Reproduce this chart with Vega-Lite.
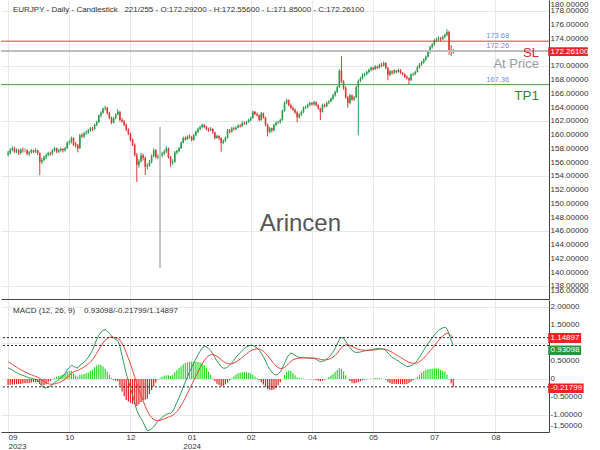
{
"$schema":"https://vega.github.io/schema/vega-lite/v6.json",
"padding":{"left":0,"top":0,"right":0,"bottom":0},
"background":"white",
"spacing":1,
"config":{"view":{"stroke":null},"font":"Liberation Sans","text":{"font":"Liberation Sans"},
 "axis":{"labelOverlap":false,"labelSeparation":0}},
"datasets":{
"pticks":[{"v":178,"t":"178.00000"},{"v":176,"t":"176.00000"},{"v":174,"t":"174.00000"},{"v":170,"t":"170.00000"},{"v":168,"t":"168.00000"},{"v":166,"t":"166.00000"},{"v":164,"t":"164.00000"},{"v":162,"t":"162.00000"},{"v":160,"t":"160.00000"},{"v":158,"t":"158.00000"},{"v":156,"t":"156.00000"},{"v":154,"t":"154.00000"},{"v":152,"t":"152.00000"},{"v":150,"t":"150.00000"},{"v":148,"t":"148.00000"},{"v":146,"t":"146.00000"},{"v":144,"t":"144.00000"},{"v":142,"t":"142.00000"},{"v":140,"t":"140.00000"},{"v":138,"t":"138.00000"}],
"mticks":[{"v":2,"t":"2.00000"},{"v":1.5,"t":"1.50000"},{"v":0.5,"t":"0.50000"},{"v":0,"t":"0"},{"v":-0.5,"t":"-0.50000"},{"v":-1,"t":"-1.00000"}],
"bars":[
{"i":1,"o":157.2,"h":157.7,"l":156.9,"c":157.4,"m":0.31,"s":0.48,"d":-0.17},
{"i":2,"o":157.4,"h":158.1,"l":157.2,"c":157.9,"m":0.28,"s":0.44,"d":-0.16},
{"i":3,"o":157.9,"h":158.4,"l":157.7,"c":158.1,"m":0.25,"s":0.402,"d":-0.152},
{"i":4,"o":158.1,"h":158.3,"l":157.4,"c":157.6,"m":0.21,"s":0.364,"d":-0.154},
{"i":5,"o":157.6,"h":158.1,"l":157.4,"c":157.8,"m":0.18,"s":0.327,"d":-0.147},
{"i":6,"o":157.8,"h":158.0,"l":157.1,"c":157.4,"m":0.15,"s":0.292,"d":-0.142},
{"i":7,"o":157.4,"h":158.1,"l":157.2,"c":157.9,"m":0.12,"s":0.258,"d":-0.138},
{"i":8,"o":157.9,"h":158.2,"l":157.5,"c":157.8,"m":0.1,"s":0.226,"d":-0.126},
{"i":9,"o":157.8,"h":158.1,"l":157.5,"c":157.8,"m":0.08,"s":0.197,"d":-0.117},
{"i":10,"o":157.8,"h":157.9,"l":157.1,"c":157.3,"m":0.05,"s":0.168,"d":-0.118},
{"i":11,"o":157.3,"h":157.7,"l":157.0,"c":157.5,"m":0.03,"s":0.14,"d":-0.11},
{"i":12,"o":157.5,"h":158.0,"l":157.3,"c":157.8,"m":0.02,"s":0.116,"d":-0.096},
{"i":13,"o":157.8,"h":157.9,"l":157.4,"c":157.6,"m":0,"s":0.093,"d":-0.093},
{"i":14,"o":157.6,"h":158.1,"l":157.4,"c":157.8,"m":-0.01,"s":0.072,"d":-0.082},
{"i":15,"o":157.8,"h":157.9,"l":157.1,"c":157.4,"m":-0.03,"s":0.052,"d":-0.082},
{"i":16,"o":157.4,"h":157.5,"l":154.2,"c":156.1,"m":-0.12,"s":0.018,"d":-0.138},
{"i":17,"o":156.1,"h":156.7,"l":155.8,"c":156.4,"m":-0.2,"s":-0.026,"d":-0.174},
{"i":18,"o":156.4,"h":157.0,"l":156.2,"c":156.8,"m":-0.24,"s":-0.069,"d":-0.171},
{"i":19,"o":156.8,"h":157.3,"l":156.5,"c":157.1,"m":-0.25,"s":-0.105,"d":-0.145},
{"i":20,"o":157.1,"h":157.6,"l":156.9,"c":157.4,"m":-0.23,"s":-0.13,"d":-0.1},
{"i":21,"o":157.4,"h":157.6,"l":157.0,"c":157.3,"m":-0.2,"s":-0.144,"d":-0.056},
{"i":22,"o":157.3,"h":158.0,"l":157.1,"c":157.8,"m":-0.15,"s":-0.145,"d":-0.005},
{"i":23,"o":157.8,"h":158.3,"l":157.6,"c":158.1,"m":-0.1,"s":-0.136,"d":0.036},
{"i":24,"o":158.1,"h":158.2,"l":157.4,"c":157.6,"m":-0.06,"s":-0.121,"d":0.061},
{"i":25,"o":157.6,"h":158.0,"l":157.4,"c":157.8,"m":-0.02,"s":-0.101,"d":0.081},
{"i":26,"o":157.8,"h":158.2,"l":157.6,"c":158.0,"m":0.03,"s":-0.075,"d":0.105},
{"i":27,"o":158.0,"h":158.1,"l":157.5,"c":157.8,"m":0.08,"s":-0.044,"d":0.124},
{"i":28,"o":157.8,"h":158.3,"l":157.6,"c":158.1,"m":0.15,"s":-0.005,"d":0.155},
{"i":29,"o":158.1,"h":159.1,"l":158.0,"c":158.9,"m":0.25,"s":0.046,"d":0.204},
{"i":30,"o":158.9,"h":159.3,"l":158.6,"c":159.0,"m":0.32,"s":0.101,"d":0.219},
{"i":31,"o":159.0,"h":159.8,"l":158.8,"c":159.6,"m":0.38,"s":0.157,"d":0.223},
{"i":32,"o":159.6,"h":159.7,"l":158.4,"c":158.6,"m":0.35,"s":0.196,"d":0.154},
{"i":33,"o":158.7,"h":159.0,"l":158.2,"c":158.6,"m":0.32,"s":0.221,"d":0.099},
{"i":34,"o":158.6,"h":158.7,"l":157.5,"c":158.1,"m":0.3,"s":0.237,"d":0.063},
{"i":35,"o":158.1,"h":160.2,"l":158.0,"c":160.0,"m":0.38,"s":0.266,"d":0.114},
{"i":36,"o":160.0,"h":160.3,"l":159.6,"c":159.8,"m":0.42,"s":0.297,"d":0.123},
{"i":37,"o":159.8,"h":160.5,"l":159.6,"c":160.3,"m":0.47,"s":0.332,"d":0.138},
{"i":38,"o":160.3,"h":160.7,"l":160.0,"c":160.4,"m":0.53,"s":0.372,"d":0.158},
{"i":39,"o":160.4,"h":160.9,"l":160.2,"c":160.7,"m":0.6,"s":0.418,"d":0.182},
{"i":40,"o":160.7,"h":161.2,"l":160.5,"c":161.0,"m":0.7,"s":0.474,"d":0.226},
{"i":41,"o":161.0,"h":161.2,"l":160.6,"c":160.9,"m":0.8,"s":0.539,"d":0.261},
{"i":42,"o":160.9,"h":161.7,"l":160.8,"c":161.5,"m":0.95,"s":0.621,"d":0.329},
{"i":43,"o":161.5,"h":162.1,"l":161.3,"c":161.9,"m":1.1,"s":0.717,"d":0.383},
{"i":44,"o":161.9,"h":163.0,"l":161.8,"c":162.9,"m":1.22,"s":0.818,"d":0.402},
{"i":45,"o":162.9,"h":163.5,"l":162.6,"c":163.3,"m":1.3,"s":0.914,"d":0.386},
{"i":46,"o":163.3,"h":164.0,"l":163.1,"c":163.9,"m":1.35,"s":1.001,"d":0.349},
{"i":47,"o":163.9,"h":164.3,"l":163.6,"c":164.0,"m":1.37,"s":1.075,"d":0.295},
{"i":48,"o":164.0,"h":164.1,"l":163.0,"c":163.2,"m":1.33,"s":1.126,"d":0.204},
{"i":49,"o":163.2,"h":163.4,"l":162.3,"c":162.5,"m":1.27,"s":1.155,"d":0.115},
{"i":50,"o":162.5,"h":162.7,"l":161.6,"c":161.8,"m":1.2,"s":1.164,"d":0.036},
{"i":51,"o":161.8,"h":162.7,"l":161.7,"c":162.5,"m":1.13,"s":1.157,"d":-0.027},
{"i":52,"o":162.5,"h":163.2,"l":162.3,"c":163.0,"m":1.1,"s":1.146,"d":-0.046},
{"i":53,"o":163.0,"h":163.8,"l":162.9,"c":163.4,"m":1.07,"s":1.131,"d":-0.061},
{"i":54,"o":163.4,"h":163.5,"l":162.0,"c":162.2,"m":0.9,"s":1.085,"d":-0.185},
{"i":55,"o":162.2,"h":162.5,"l":161.8,"c":162.0,"m":0.65,"s":0.998,"d":-0.348},
{"i":56,"o":162.0,"h":162.2,"l":161.3,"c":161.5,"m":0.4,"s":0.878,"d":-0.478},
{"i":57,"o":161.5,"h":161.7,"l":160.6,"c":160.8,"m":0.15,"s":0.732,"d":-0.582},
{"i":58,"o":160.8,"h":161.0,"l":160.0,"c":160.2,"m":-0.05,"s":0.576,"d":-0.626},
{"i":59,"o":160.2,"h":160.4,"l":159.1,"c":159.3,"m":-0.25,"s":0.411,"d":-0.661},
{"i":60,"o":159.3,"h":159.5,"l":158.4,"c":158.6,"m":-0.45,"s":0.239,"d":-0.689},
{"i":61,"o":158.6,"h":158.8,"l":156.9,"c":157.1,"m":-0.65,"s":0.061,"d":-0.711},
{"i":62,"o":157.1,"h":157.4,"l":153.2,"c":155.7,"m":-0.88,"s":-0.127,"d":-0.753},
{"i":63,"o":155.7,"h":156.5,"l":155.3,"c":156.2,"m":-1.0,"s":-0.302,"d":-0.698},
{"i":64,"o":156.2,"h":157.4,"l":156.0,"c":157.1,"m":-1.1,"s":-0.462,"d":-0.638},
{"i":65,"o":157.1,"h":157.3,"l":156.3,"c":156.7,"m":-1.2,"s":-0.61,"d":-0.59},
{"i":66,"o":156.7,"h":156.9,"l":154.2,"c":155.4,"m":-1.33,"s":-0.754,"d":-0.576},
{"i":67,"o":155.4,"h":155.9,"l":155.0,"c":155.6,"m":-1.44,"s":-0.891,"d":-0.549},
{"i":68,"o":155.6,"h":156.4,"l":155.4,"c":156.1,"m":-1.42,"s":-0.997,"d":-0.423},
{"i":69,"o":156.1,"h":157.2,"l":155.9,"c":157.0,"m":-1.38,"s":-1.074,"d":-0.306},
{"i":70,"o":157.0,"h":158.1,"l":156.8,"c":157.8,"m":-1.33,"s":-1.125,"d":-0.205},
{"i":71,"o":157.8,"h":158.0,"l":156.6,"c":156.8,"m":-1.25,"s":-1.15,"d":-0.1},
{"i":72,"o":156.8,"h":157.2,"l":156.5,"c":156.9,"m":-1.17,"s":-1.154,"d":-0.016},
{"i":73,"o":157.1,"h":161.2,"l":140.7,"c":157.1,"m":-1.12,"s":-1.147,"d":0.027},
{"i":74,"o":157.1,"h":157.6,"l":156.8,"c":157.3,"m":-1.07,"s":-1.132,"d":0.062},
{"i":75,"o":157.3,"h":157.9,"l":157.1,"c":157.6,"m":-1.02,"s":-1.11,"d":0.09},
{"i":76,"o":157.6,"h":158.4,"l":157.4,"c":158.1,"m":-0.98,"s":-1.084,"d":0.104},
{"i":77,"o":158.1,"h":158.2,"l":156.6,"c":156.8,"m":-0.96,"s":-1.059,"d":0.099},
{"i":78,"o":156.8,"h":157.0,"l":155.4,"c":156.0,"m":-0.95,"s":-1.037,"d":0.087},
{"i":79,"o":156.0,"h":156.5,"l":155.7,"c":156.1,"m":-0.9,"s":-1.01,"d":0.11},
{"i":80,"o":156.1,"h":157.7,"l":156.0,"c":157.5,"m":-0.78,"s":-0.964,"d":0.184},
{"i":81,"o":157.5,"h":157.9,"l":157.2,"c":157.7,"m":-0.65,"s":-0.901,"d":0.251},
{"i":82,"o":157.7,"h":158.3,"l":157.5,"c":158.1,"m":-0.52,"s":-0.825,"d":0.305},
{"i":83,"o":158.1,"h":159.1,"l":158.0,"c":158.9,"m":-0.38,"s":-0.736,"d":0.356},
{"i":84,"o":158.9,"h":159.8,"l":158.8,"c":159.6,"m":-0.22,"s":-0.633,"d":0.413},
{"i":85,"o":159.6,"h":159.8,"l":159.2,"c":159.4,"m":-0.08,"s":-0.522,"d":0.442},
{"i":86,"o":159.4,"h":160.0,"l":159.3,"c":159.8,"m":0.06,"s":-0.406,"d":0.466},
{"i":87,"o":159.8,"h":160.1,"l":159.5,"c":159.7,"m":0.2,"s":-0.285,"d":0.485},
{"i":88,"o":159.7,"h":159.9,"l":159.1,"c":159.3,"m":0.32,"s":-0.164,"d":0.484},
{"i":89,"o":159.3,"h":160.2,"l":159.2,"c":160.0,"m":0.44,"s":-0.043,"d":0.483},
{"i":90,"o":160.0,"h":160.7,"l":159.9,"c":160.5,"m":0.56,"s":0.078,"d":0.482},
{"i":91,"o":160.5,"h":161.1,"l":160.3,"c":160.9,"m":0.67,"s":0.196,"d":0.474},
{"i":92,"o":160.9,"h":161.4,"l":160.7,"c":161.2,"m":0.77,"s":0.311,"d":0.459},
{"i":93,"o":161.2,"h":161.7,"l":161.0,"c":161.5,"m":0.86,"s":0.421,"d":0.439},
{"i":94,"o":161.5,"h":161.6,"l":161.0,"c":161.2,"m":0.9,"s":0.517,"d":0.383},
{"i":95,"o":161.2,"h":161.4,"l":160.7,"c":160.9,"m":0.89,"s":0.592,"d":0.298},
{"i":96,"o":160.9,"h":161.1,"l":160.5,"c":160.7,"m":0.85,"s":0.644,"d":0.206},
{"i":97,"o":160.7,"h":161.2,"l":160.6,"c":160.9,"m":0.79,"s":0.673,"d":0.117},
{"i":98,"o":160.9,"h":161.0,"l":160.2,"c":160.4,"m":0.7,"s":0.678,"d":0.022},
{"i":99,"o":160.4,"h":160.5,"l":159.4,"c":159.6,"m":0.6,"s":0.662,"d":-0.062},
{"i":100,"o":159.6,"h":160.1,"l":159.5,"c":159.9,"m":0.5,"s":0.63,"d":-0.13},
{"i":101,"o":159.9,"h":160.0,"l":159.3,"c":159.6,"m":0.42,"s":0.588,"d":-0.168},
{"i":102,"o":159.6,"h":159.7,"l":157.6,"c":158.9,"m":0.34,"s":0.538,"d":-0.198},
{"i":103,"o":158.9,"h":159.4,"l":158.7,"c":159.2,"m":0.3,"s":0.49,"d":-0.19},
{"i":104,"o":159.2,"h":159.8,"l":159.0,"c":159.6,"m":0.3,"s":0.452,"d":-0.152},
{"i":105,"o":159.6,"h":160.9,"l":159.5,"c":160.7,"m":0.33,"s":0.428,"d":-0.098},
{"i":106,"o":160.7,"h":160.9,"l":160.3,"c":160.5,"m":0.38,"s":0.418,"d":-0.038},
{"i":107,"o":160.5,"h":161.2,"l":160.4,"c":161.0,"m":0.44,"s":0.422,"d":0.018},
{"i":108,"o":161.0,"h":161.2,"l":160.7,"c":160.9,"m":0.52,"s":0.442,"d":0.078},
{"i":109,"o":160.9,"h":161.3,"l":160.7,"c":161.1,"m":0.6,"s":0.474,"d":0.126},
{"i":110,"o":161.1,"h":161.6,"l":161.0,"c":161.4,"m":0.67,"s":0.513,"d":0.157},
{"i":111,"o":161.4,"h":161.6,"l":161.1,"c":161.3,"m":0.73,"s":0.556,"d":0.174},
{"i":112,"o":161.3,"h":162.0,"l":161.2,"c":161.8,"m":0.79,"s":0.603,"d":0.187},
{"i":113,"o":161.8,"h":162.0,"l":161.5,"c":161.7,"m":0.85,"s":0.652,"d":0.198},
{"i":114,"o":161.7,"h":162.1,"l":161.5,"c":161.9,"m":0.89,"s":0.7,"d":0.19},
{"i":115,"o":161.9,"h":162.4,"l":161.8,"c":162.2,"m":0.92,"s":0.744,"d":0.176},
{"i":116,"o":162.2,"h":162.7,"l":162.0,"c":162.5,"m":0.94,"s":0.783,"d":0.157},
{"i":117,"o":162.5,"h":163.6,"l":162.4,"c":163.4,"m":0.93,"s":0.812,"d":0.118},
{"i":118,"o":163.4,"h":163.5,"l":162.9,"c":163.1,"m":0.9,"s":0.83,"d":0.07},
{"i":119,"o":163.1,"h":163.3,"l":162.7,"c":162.9,"m":0.86,"s":0.836,"d":0.024},
{"i":120,"o":162.9,"h":163.0,"l":162.0,"c":162.2,"m":0.8,"s":0.829,"d":-0.029},
{"i":121,"o":162.2,"h":163.4,"l":162.1,"c":163.2,"m":0.72,"s":0.807,"d":-0.087},
{"i":122,"o":163.2,"h":163.3,"l":162.4,"c":162.6,"m":0.62,"s":0.77,"d":-0.15},
{"i":123,"o":162.6,"h":162.7,"l":161.3,"c":161.5,"m":0.5,"s":0.716,"d":-0.216},
{"i":124,"o":161.5,"h":161.7,"l":159.8,"c":160.5,"m":0.37,"s":0.647,"d":-0.277},
{"i":125,"o":160.5,"h":161.2,"l":160.3,"c":161.0,"m":0.27,"s":0.572,"d":-0.302},
{"i":126,"o":161.0,"h":161.1,"l":160.4,"c":160.7,"m":0.19,"s":0.496,"d":-0.306},
{"i":127,"o":160.7,"h":161.7,"l":160.6,"c":161.5,"m":0.13,"s":0.423,"d":-0.293},
{"i":128,"o":161.5,"h":162.0,"l":161.3,"c":161.8,"m":0.11,"s":0.36,"d":-0.25},
{"i":129,"o":161.8,"h":162.1,"l":161.6,"c":161.9,"m":0.14,"s":0.316,"d":-0.176},
{"i":130,"o":161.9,"h":162.4,"l":161.7,"c":162.2,"m":0.2,"s":0.293,"d":-0.093},
{"i":131,"o":162.2,"h":163.7,"l":162.1,"c":163.5,"m":0.3,"s":0.294,"d":0.006},
{"i":132,"o":163.5,"h":164.9,"l":163.4,"c":164.7,"m":0.43,"s":0.321,"d":0.109},
{"i":133,"o":164.7,"h":165.3,"l":164.5,"c":165.1,"m":0.57,"s":0.371,"d":0.199},
{"i":134,"o":165.1,"h":165.2,"l":164.2,"c":164.4,"m":0.67,"s":0.431,"d":0.239},
{"i":135,"o":164.4,"h":164.6,"l":163.8,"c":164.0,"m":0.72,"s":0.489,"d":0.231},
{"i":136,"o":164.0,"h":164.2,"l":163.5,"c":163.7,"m":0.7,"s":0.531,"d":0.169},
{"i":137,"o":163.7,"h":163.9,"l":163.1,"c":163.3,"m":0.66,"s":0.557,"d":0.103},
{"i":138,"o":163.3,"h":163.5,"l":161.9,"c":162.6,"m":0.62,"s":0.57,"d":0.05},
{"i":139,"o":162.6,"h":163.2,"l":162.4,"c":163.0,"m":0.6,"s":0.576,"d":0.024},
{"i":140,"o":163.0,"h":163.6,"l":162.8,"c":163.4,"m":0.6,"s":0.581,"d":0.019},
{"i":141,"o":163.4,"h":164.2,"l":163.2,"c":164.0,"m":0.6,"s":0.585,"d":0.015},
{"i":142,"o":164.0,"h":164.3,"l":163.8,"c":164.1,"m":0.59,"s":0.586,"d":0.004},
{"i":143,"o":164.1,"h":164.6,"l":163.9,"c":164.4,"m":0.58,"s":0.585,"d":-0.005},
{"i":144,"o":164.4,"h":164.9,"l":164.2,"c":164.7,"m":0.58,"s":0.585,"d":-0.005},
{"i":145,"o":164.7,"h":164.8,"l":164.3,"c":164.5,"m":0.58,"s":0.584,"d":-0.004},
{"i":146,"o":164.5,"h":165.0,"l":164.3,"c":164.8,"m":0.57,"s":0.581,"d":-0.011},
{"i":147,"o":164.8,"h":164.9,"l":164.2,"c":164.4,"m":0.55,"s":0.575,"d":-0.025},
{"i":148,"o":164.4,"h":164.5,"l":163.7,"c":163.9,"m":0.51,"s":0.562,"d":-0.052},
{"i":149,"o":163.9,"h":164.0,"l":162.2,"c":163.4,"m":0.48,"s":0.546,"d":-0.066},
{"i":150,"o":163.4,"h":164.6,"l":163.3,"c":164.4,"m":0.49,"s":0.535,"d":-0.045},
{"i":151,"o":164.4,"h":164.6,"l":164.0,"c":164.2,"m":0.51,"s":0.53,"d":-0.02},
{"i":152,"o":164.2,"h":164.9,"l":164.1,"c":164.7,"m":0.55,"s":0.534,"d":0.016},
{"i":153,"o":164.7,"h":165.1,"l":164.5,"c":164.9,"m":0.6,"s":0.547,"d":0.053},
{"i":154,"o":164.9,"h":165.5,"l":164.8,"c":165.3,"m":0.67,"s":0.572,"d":0.098},
{"i":155,"o":165.3,"h":166.0,"l":165.1,"c":165.8,"m":0.75,"s":0.608,"d":0.142},
{"i":156,"o":165.8,"h":166.5,"l":165.6,"c":166.3,"m":0.85,"s":0.656,"d":0.194},
{"i":157,"o":166.3,"h":167.2,"l":166.1,"c":167.0,"m":0.97,"s":0.719,"d":0.251},
{"i":158,"o":167.0,"h":169.6,"l":166.9,"c":169.4,"m":1.1,"s":0.795,"d":0.305},
{"i":159,"o":169.4,"h":171.5,"l":167.6,"c":167.8,"m":1.15,"s":0.866,"d":0.284},
{"i":160,"o":167.8,"h":168.0,"l":166.6,"c":166.9,"m":1.13,"s":0.919,"d":0.211},
{"i":161,"o":166.9,"h":167.1,"l":165.3,"c":165.5,"m":1.05,"s":0.945,"d":0.105},
{"i":162,"o":165.5,"h":165.7,"l":164.0,"c":164.7,"m":0.95,"s":0.946,"d":0.004},
{"i":163,"o":164.7,"h":166.0,"l":164.5,"c":165.8,"m":0.88,"s":0.933,"d":-0.053},
{"i":164,"o":165.8,"h":165.9,"l":165.0,"c":165.2,"m":0.8,"s":0.906,"d":-0.106},
{"i":165,"o":165.2,"h":165.7,"l":165.0,"c":165.5,"m":0.75,"s":0.875,"d":-0.125},
{"i":166,"o":165.5,"h":167.2,"l":165.4,"c":167.0,"m":0.74,"s":0.848,"d":-0.108},
{"i":167,"o":167.0,"h":168.1,"l":160.0,"c":167.9,"m":0.74,"s":0.826,"d":-0.086},
{"i":168,"o":167.9,"h":168.5,"l":167.7,"c":168.3,"m":0.75,"s":0.811,"d":-0.061},
{"i":169,"o":168.3,"h":169.0,"l":168.1,"c":168.8,"m":0.77,"s":0.803,"d":-0.033},
{"i":170,"o":168.8,"h":169.1,"l":168.5,"c":168.9,"m":0.78,"s":0.798,"d":-0.018},
{"i":171,"o":168.9,"h":169.4,"l":168.7,"c":169.2,"m":0.79,"s":0.796,"d":-0.006},
{"i":172,"o":169.2,"h":169.7,"l":169.0,"c":169.5,"m":0.8,"s":0.797,"d":0.003},
{"i":173,"o":169.5,"h":170.0,"l":169.3,"c":169.8,"m":0.81,"s":0.8,"d":0.01},
{"i":174,"o":169.8,"h":169.9,"l":169.4,"c":169.6,"m":0.82,"s":0.804,"d":0.016},
{"i":175,"o":169.6,"h":170.2,"l":169.5,"c":170.0,"m":0.84,"s":0.811,"d":0.029},
{"i":176,"o":170.0,"h":170.1,"l":169.6,"c":169.8,"m":0.85,"s":0.819,"d":0.031},
{"i":177,"o":169.8,"h":170.4,"l":169.7,"c":170.2,"m":0.85,"s":0.825,"d":0.025},
{"i":178,"o":170.2,"h":170.5,"l":169.9,"c":170.1,"m":0.84,"s":0.828,"d":0.012},
{"i":179,"o":170.1,"h":170.7,"l":170.0,"c":170.5,"m":0.83,"s":0.829,"d":0.001},
{"i":180,"o":170.5,"h":170.6,"l":169.6,"c":169.8,"m":0.8,"s":0.823,"d":-0.023},
{"i":181,"o":169.8,"h":169.9,"l":168.0,"c":168.8,"m":0.72,"s":0.803,"d":-0.083},
{"i":182,"o":168.8,"h":169.5,"l":168.6,"c":169.3,"m":0.66,"s":0.774,"d":-0.114},
{"i":183,"o":169.3,"h":169.4,"l":168.8,"c":169.1,"m":0.6,"s":0.739,"d":-0.139},
{"i":184,"o":169.1,"h":169.6,"l":168.9,"c":169.4,"m":0.57,"s":0.705,"d":-0.135},
{"i":185,"o":169.4,"h":169.5,"l":169.0,"c":169.2,"m":0.53,"s":0.67,"d":-0.14},
{"i":186,"o":169.2,"h":169.7,"l":169.1,"c":169.5,"m":0.5,"s":0.636,"d":-0.136},
{"i":187,"o":169.5,"h":169.6,"l":168.9,"c":169.1,"m":0.46,"s":0.601,"d":-0.141},
{"i":188,"o":169.1,"h":169.2,"l":168.7,"c":168.9,"m":0.42,"s":0.565,"d":-0.145},
{"i":189,"o":168.9,"h":169.0,"l":168.3,"c":168.5,"m":0.38,"s":0.528,"d":-0.148},
{"i":190,"o":168.5,"h":168.7,"l":168.1,"c":168.3,"m":0.35,"s":0.492,"d":-0.142},
{"i":191,"o":168.3,"h":168.4,"l":167.3,"c":168.0,"m":0.35,"s":0.464,"d":-0.114},
{"i":192,"o":168.0,"h":169.0,"l":167.9,"c":168.8,"m":0.37,"s":0.445,"d":-0.075},
{"i":193,"o":168.8,"h":169.1,"l":168.6,"c":168.9,"m":0.4,"s":0.436,"d":-0.036},
{"i":194,"o":168.9,"h":169.4,"l":168.7,"c":169.2,"m":0.45,"s":0.439,"d":0.011},
{"i":195,"o":169.2,"h":170.1,"l":169.1,"c":169.9,"m":0.52,"s":0.455,"d":0.065},
{"i":196,"o":169.9,"h":170.5,"l":169.7,"c":170.3,"m":0.6,"s":0.484,"d":0.116},
{"i":197,"o":170.3,"h":170.8,"l":170.1,"c":170.6,"m":0.7,"s":0.527,"d":0.173},
{"i":198,"o":170.6,"h":171.2,"l":170.4,"c":171.0,"m":0.8,"s":0.582,"d":0.218},
{"i":199,"o":171.0,"h":171.6,"l":170.8,"c":171.4,"m":0.9,"s":0.645,"d":0.255},
{"i":200,"o":171.4,"h":172.3,"l":171.3,"c":172.1,"m":0.98,"s":0.712,"d":0.268},
{"i":201,"o":172.1,"h":173.0,"l":171.9,"c":172.8,"m":1.06,"s":0.781,"d":0.279},
{"i":202,"o":172.8,"h":173.4,"l":172.6,"c":173.2,"m":1.14,"s":0.853,"d":0.287},
{"i":203,"o":173.2,"h":174.0,"l":173.0,"c":173.8,"m":1.22,"s":0.926,"d":0.294},
{"i":204,"o":173.8,"h":174.2,"l":173.5,"c":173.9,"m":1.29,"s":0.999,"d":0.291},
{"i":205,"o":173.9,"h":174.4,"l":173.7,"c":174.1,"m":1.35,"s":1.069,"d":0.281},
{"i":206,"o":174.1,"h":174.3,"l":173.6,"c":174.0,"m":1.39,"s":1.133,"d":0.257},
{"i":207,"o":174.0,"h":174.5,"l":173.8,"c":174.3,"m":1.42,"s":1.19,"d":0.23},
{"i":208,"o":174.3,"h":174.8,"l":174.1,"c":174.6,"m":1.44,"s":1.24,"d":0.2},
{"i":209,"o":174.6,"h":175.4,"l":174.4,"c":175.0,"m":1.4,"s":1.272,"d":0.128},
{"i":210,"o":175.0,"h":175.2,"l":171.7,"c":172.4,"m":1.25,"s":1.26,"d":-0.01},
{"i":211,"o":172.4,"h":173.1,"l":171.5,"c":172.1,"m":1.08,"s":1.2,"d":-0.12},
{"i":212,"o":172.292,"h":172.556,"l":171.85,"c":172.261,"m":0.93098,"s":1.14897,"d":-0.21799}
]},
"vconcat":[
{
"width":548,"height":299,
"layer":[
{"data":{"name":"bars"},
 "mark":{"type":"rule","strokeWidth":1,"clip":true},
 "encoding":{
  "x":{"field":"i","type":"quantitative","scale":{"domain":[0,255],"nice":false,"zero":false},
       "axis":{"values":[1,30,59,88,116,145,174,203,232],"labels":false,"ticks":false,"title":null,"grid":true,"gridColor":"#e8e8e8","domainColor":"#444"}},
  "y":{"field":"l","type":"quantitative","scale":{"domain":[136.17,179.67],"nice":false,"zero":false},
       "axis":{"orient":"right","values":[138,140,142,144,146,148,150,152,154,156,158,160,162,164,166,168,170,172,174,176,178],
               "labels":false,"ticks":false,"title":null,"grid":true,"gridColor":"#e8e8e8","domainColor":"#444"}},
  "y2":{"field":"h"},
  "color":{"condition":[{"test":"datum.c > datum.o","value":"#2e9d4e"},{"test":"datum.c < datum.o","value":"#e0383b"}],"value":"#8a8a8a"}
 }},
{"data":{"name":"bars"},
 "mark":{"type":"bar","size":1.6,"clip":true},
 "encoding":{
  "x":{"field":"i","type":"quantitative"},
  "y":{"field":"o","type":"quantitative"},
  "y2":{"field":"c"},
  "color":{"condition":[{"test":"datum.c > datum.o","value":"#2e9d4e"},{"test":"datum.c < datum.o","value":"#e0383b"}],"value":"#8a8a8a"}
 }},
{"data":{"values":[{}]},"mark":{"type":"rule","color":"#bdbdbd","strokeWidth":2},"encoding":{"y":{"datum":172.26,"type":"quantitative"}}},
{"data":{"values":[{}]},"mark":{"type":"rule","color":"#e23a3a","strokeWidth":1},"encoding":{"y":{"datum":173.68,"type":"quantitative"}}},
{"data":{"values":[{}]},"mark":{"type":"rule","color":"#44a044","strokeWidth":1},"encoding":{"y":{"datum":167.36,"type":"quantitative"}}},
{"data":{"name":"pticks"},"mark":{"type":"text","align":"left","baseline":"middle","fontSize":8,"color":"#333"},
 "encoding":{"x":{"datum":258.1,"type":"quantitative"},"y":{"field":"v","type":"quantitative"},"text":{"field":"t"}}},
{"data":{"values":[{}]},"mark":{"type":"text","align":"left","baseline":"middle","fontSize":8,"color":"#333","text":"EURJPY - Daily - Candlestick\u00a0\u00a0\u00a0221/255 - O:172.29200 - H:172.55600 - L:171.85000 - C:172.26100"},
 "encoding":{"x":{"datum":3.3,"type":"quantitative"},"y":{"datum":178.2,"type":"quantitative"}}},
{"data":{"values":[{}]},"mark":{"type":"text","align":"center","baseline":"middle","fontSize":24,"color":"#555","text":"Arincen"},
 "encoding":{"x":{"datum":139.5,"type":"quantitative"},"y":{"datum":147.08,"type":"quantitative"}}},
{"data":{"values":[{}]},"mark":{"type":"text","align":"right","baseline":"middle","fontSize":7.5,"color":"#6b8ff0","text":"173.68"},
 "encoding":{"x":{"datum":238.5,"type":"quantitative"},"y":{"datum":174.36,"type":"quantitative"}}},
{"data":{"values":[{}]},"mark":{"type":"text","align":"right","baseline":"middle","fontSize":7.5,"color":"#6b8ff0","text":"172.26"},
 "encoding":{"x":{"datum":238.5,"type":"quantitative"},"y":{"datum":173.05,"type":"quantitative"}}},
{"data":{"values":[{}]},"mark":{"type":"text","align":"right","baseline":"middle","fontSize":7.5,"color":"#6b8ff0","text":"167.36"},
 "encoding":{"x":{"datum":238.5,"type":"quantitative"},"y":{"datum":168.03,"type":"quantitative"}}},
{"data":{"values":[{}]},"mark":{"type":"text","align":"right","baseline":"middle","fontSize":13,"color":"#e02a2a","text":"SL"},
 "encoding":{"x":{"datum":252.6,"type":"quantitative"},"y":{"datum":172.0,"type":"quantitative"}}},
{"data":{"values":[{}]},"mark":{"type":"text","align":"right","baseline":"middle","fontSize":13,"color":"#9a9a9a","text":"At Price"},
 "encoding":{"x":{"datum":252.6,"type":"quantitative"},"y":{"datum":170.4,"type":"quantitative"}}},
{"data":{"values":[{}]},"mark":{"type":"text","align":"right","baseline":"middle","fontSize":13.5,"color":"#2e8b2e","text":"TP1"},
 "encoding":{"x":{"datum":252.6,"type":"quantitative"},"y":{"datum":165.7,"type":"quantitative"}}},
{"data":{"values":[{}]},"mark":{"type":"rect","color":"#e02828"},
 "encoding":{"x":{"datum":257.0,"type":"quantitative"},"x2":{"datum":275.8},"y":{"datum":172.785,"type":"quantitative"},"y2":{"datum":171.52}}},
{"data":{"values":[{}]},"mark":{"type":"text","align":"left","baseline":"middle","fontSize":8,"color":"white","text":"172.26100"},
 "encoding":{"x":{"datum":258.1,"type":"quantitative"},"y":{"datum":172.15,"type":"quantitative"}}},
{"data":{"values":[{}]},"mark":{"type":"text","align":"left","baseline":"middle","fontSize":8,"color":"#333","text":"180.00000"},
 "encoding":{"x":{"datum":258.1,"type":"quantitative"},"y":{"datum":178.95,"type":"quantitative"}}},
{"data":{"values":[{}]},"mark":{"type":"text","align":"left","baseline":"middle","fontSize":8,"color":"#333","text":"136.00000"},
 "encoding":{"x":{"datum":258.1,"type":"quantitative"},"y":{"datum":137.4,"type":"quantitative"}}}
]
},
{
"width":548,"height":132,
"layer":[
{"data":{"name":"bars"},
 "mark":{"type":"bar","size":1.2,"clip":true},
 "encoding":{
  "x":{"field":"i","type":"quantitative","scale":{"domain":[0,255],"nice":false,"zero":false},
       "axis":{"values":[1,30,59,88,116,145,174,203,232],
               "labelExpr":"datum.value < 10 ? ['09','2023'] : datum.value < 40 ? '10' : datum.value < 70 ? '12' : datum.value < 100 ? ['01','2024'] : datum.value < 130 ? '02' : datum.value < 160 ? '04' : datum.value < 190 ? '05' : datum.value < 220 ? '07' : '08'",
               "labelFlush":10,"ticks":false,"labelPadding":1,"labelLineHeight":9,"labelFontSize":8,"labelColor":"#333","labelFont":"Liberation Sans","title":null,"grid":true,"gridColor":"#e8e8e8","domainColor":"#444","labelOverlap":false}},
  "y":{"field":"d","type":"quantitative","scale":{"domain":[-1.472,2.194],"nice":false,"zero":false},
       "axis":{"orient":"right","values":[2,1.5,1,0.5,0,-0.5,-1],
               "labels":false,"ticks":false,"title":null,"grid":true,"gridColor":"#e8e8e8","domainColor":"#444"}},
  "y2":{"datum":0},
  "color":{"condition":{"test":"datum.d >= 0","value":"#22dd22"},"value":"#ee1c1c"}
 }},
{"data":{"name":"bars"},"mark":{"type":"line","color":"#2f9a57","strokeWidth":1,"clip":true},
 "encoding":{"x":{"field":"i","type":"quantitative"},"y":{"field":"m","type":"quantitative"}}},
{"data":{"name":"bars"},"mark":{"type":"line","color":"#e8453c","strokeWidth":1,"clip":true},
 "encoding":{"x":{"field":"i","type":"quantitative"},"y":{"field":"s","type":"quantitative"}}},
{"data":{"values":[{}]},"mark":{"type":"rule","color":"#222","strokeDash":[2,2],"strokeWidth":1},"encoding":{"y":{"datum":1.14897,"type":"quantitative"}}},
{"data":{"values":[{}]},"mark":{"type":"rule","color":"#222","strokeDash":[2,2],"strokeWidth":1},"encoding":{"y":{"datum":0.93098,"type":"quantitative"}}},
{"data":{"values":[{}]},"mark":{"type":"rule","color":"#222","strokeDash":[2,2],"strokeWidth":1},"encoding":{"y":{"datum":-0.21799,"type":"quantitative"}}},
{"data":{"name":"mticks"},"mark":{"type":"text","align":"left","baseline":"middle","fontSize":8,"color":"#333"},
 "encoding":{"x":{"datum":258.1,"type":"quantitative"},"y":{"field":"v","type":"quantitative"},"text":{"field":"t"}}},
{"data":{"values":[{}]},"mark":{"type":"text","align":"left","baseline":"middle","fontSize":8,"color":"#333","text":"MACD (12, 26, 9)\u00a0\u00a0\u00a0\u00a00.93098/-0.21799/1.14897"},
 "encoding":{"x":{"datum":3.3,"type":"quantitative"},"y":{"datum":1.875,"type":"quantitative"}}},
{"data":{"values":[{}]},"mark":{"type":"rect","color":"#f02222"},
 "encoding":{"x":{"datum":257.0,"type":"quantitative"},"x2":{"datum":272.6},"y":{"datum":1.278,"type":"quantitative"},"y2":{"datum":1.0}}},
{"data":{"values":[{}]},"mark":{"type":"text","align":"left","baseline":"middle","fontSize":8,"color":"white","text":"1.14897"},
 "encoding":{"x":{"datum":258.1,"type":"quantitative"},"y":{"datum":1.139,"type":"quantitative"}}},
{"data":{"values":[{}]},"mark":{"type":"rect","color":"#1f9a3c"},
 "encoding":{"x":{"datum":257.0,"type":"quantitative"},"x2":{"datum":272.6},"y":{"datum":0.931,"type":"quantitative"},"y2":{"datum":0.667}}},
{"data":{"values":[{}]},"mark":{"type":"text","align":"left","baseline":"middle","fontSize":8,"color":"white","text":"0.93098"},
 "encoding":{"x":{"datum":258.1,"type":"quantitative"},"y":{"datum":0.797,"type":"quantitative"}}},
{"data":{"values":[{}]},"mark":{"type":"rect","color":"#f02222"},
 "encoding":{"x":{"datum":257.0,"type":"quantitative"},"x2":{"datum":273.8},"y":{"datum":-0.125,"type":"quantitative"},"y2":{"datum":-0.389}}},
{"data":{"values":[{}]},"mark":{"type":"text","align":"left","baseline":"middle","fontSize":8,"color":"white","text":"-0.21799"},
 "encoding":{"x":{"datum":258.1,"type":"quantitative"},"y":{"datum":-0.258,"type":"quantitative"}}},
{"data":{"values":[{}]},"mark":{"type":"text","align":"left","baseline":"middle","fontSize":8,"color":"#333","text":"-1.50000"},
 "encoding":{"x":{"datum":258.1,"type":"quantitative"},"y":{"datum":-1.306,"type":"quantitative"}}}
]
}
]
}
